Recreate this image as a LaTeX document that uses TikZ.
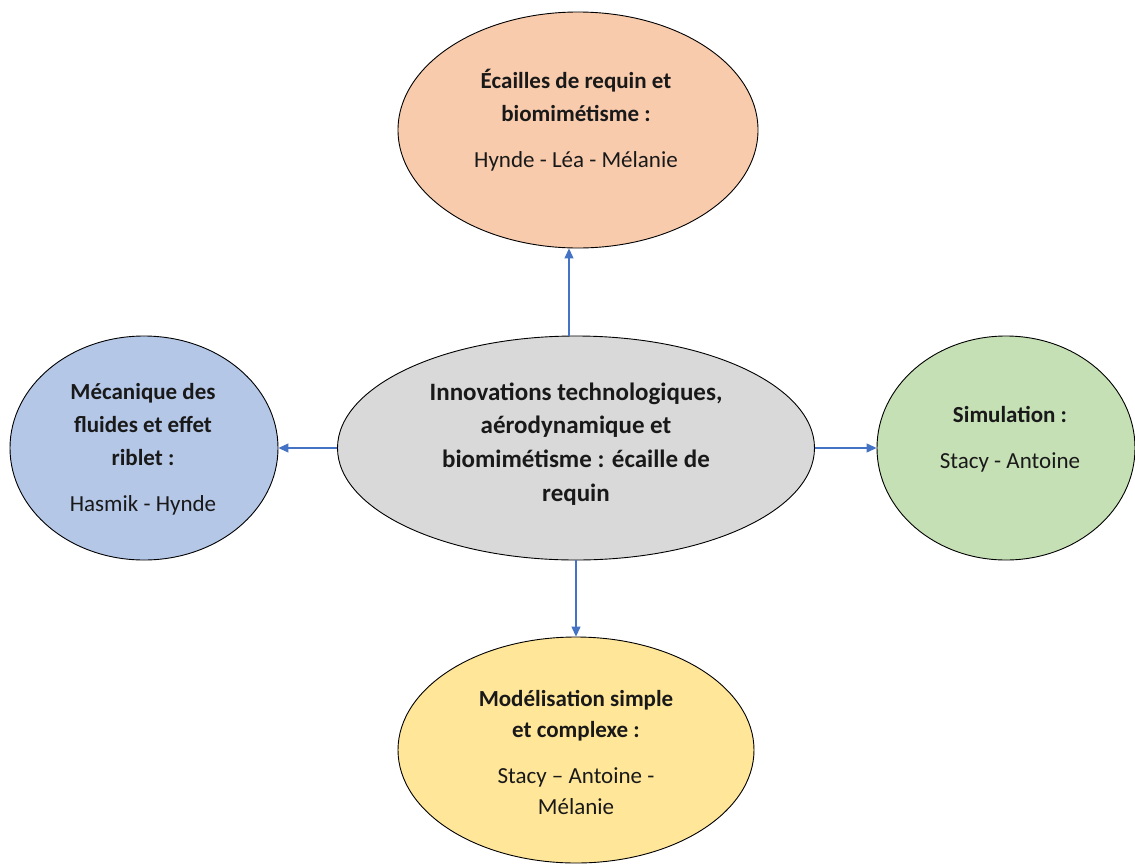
\documentclass[tikz,border=0pt]{standalone}
\usepackage{fontspec}
\setmainfont{Carlito}
\usetikzlibrary{shapes.geometric,arrows.meta}
\definecolor{peach}{HTML}{F8CBAD}
\definecolor{lblue}{HTML}{B4C7E7}
\definecolor{lgreen}{HTML}{C5E0B4}
\definecolor{lyellow}{HTML}{FFE699}
\definecolor{lgray}{HTML}{D9D9D9}
\definecolor{arrblue}{HTML}{4472C4}
\tikzset{
  bubble/.style={ellipse, draw=black, line width=0.9pt, inner sep=0pt},
  txt/.style={align=center, font=\fontsize{23}{33}\selectfont, text=black!90, inner sep=0pt},
  arr/.style={draw=arrblue, line width=1.1pt, -{Triangle[length=10pt,width=9pt]}}
}
\begin{document}
\begin{tikzpicture}[x=1pt,y=-1pt]
\useasboundingbox[fill=white] (0,0) rectangle (1135,865);
\node[bubble, fill=peach, minimum width=360pt, minimum height=236pt] (t) at (578,130) {};
\node[bubble, fill=lblue, minimum width=268pt, minimum height=224pt] (l) at (144,448) {};
\node[bubble, fill=lgray, minimum width=477pt, minimum height=224pt] (c) at (576,448) {};
\node[bubble, fill=lgreen, minimum width=258pt, minimum height=224pt] (r) at (1006,448) {};
\node[bubble, fill=lyellow, minimum width=356pt, minimum height=226pt] (b) at (576,750) {};

\node[txt] (tt) at (576,120) {\textbf{Écailles de requin et}\\\textbf{biomimétisme :}\\[13pt]Hynde - Léa - Mélanie};
\node[txt] (lt) at (143,449) {\textbf{Mécanique des}\\\textbf{fluides et effet}\\\textbf{riblet :}\\[13pt]Hasmik - Hynde};
\node[txt, font=\fontsize{25}{33.7}\selectfont] (ct) at (576,444) {\textbf{Innovations technologiques,}\\\textbf{aérodynamique et}\\\textbf{biomimétisme : écaille de}\\\textbf{requin}};
\node[txt] (rt) at (1010,439) {\textbf{Simulation :}\\[13pt]Stacy - Antoine};
\node[txt, font=\fontsize{23}{31}\selectfont] (bt) at (576,752) {\textbf{Modélisation simple}\\\textbf{et complexe :}\\[15pt]Stacy -- Antoine -\\Mélanie};

\draw[arr] ([xshift=-7pt]c.north) -- ([xshift=-9pt]t.south);
\draw[arr] (c.west) -- (l.east);
\draw[arr] (c.east) -- (r.west);
\draw[arr] (c.south) -- (b.north);
\end{tikzpicture}
\end{document}
